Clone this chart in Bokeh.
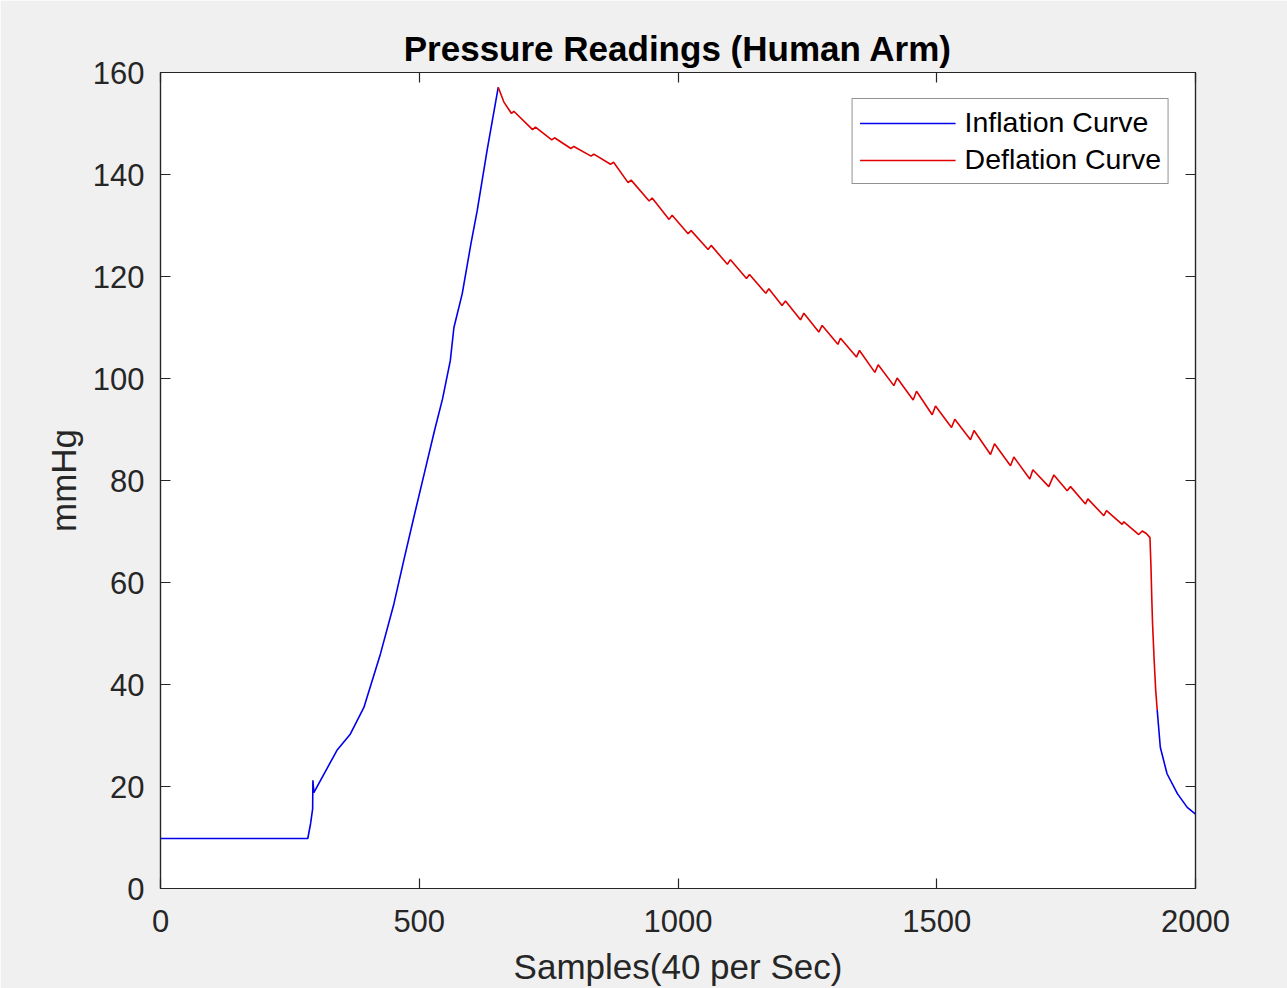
from bokeh.plotting import figure
from bokeh.models import LinearAxis, FixedTicker, Range1d, CustomJSTickFormatter
from bokeh.embed import file_html
from bokeh.resources import INLINE

# ---- data ----
infl_x = [0, 284.6, 290, 294, 294.5, 296.3, 341, 367, 393, 425, 451, 470, 490, 510,
          530, 545, 560, 567, 583, 600, 612, 631, 652.6]
infl_y = [9.8, 9.8, 12.7, 15.6, 21.2, 18.8, 27.1, 30.3, 35.5, 46.0, 55.8, 64.3, 73.0, 81.5,
          90.0, 96.0, 103.5, 110.0, 116.6, 126.5, 132.9, 144.7, 157.1]

defl_x = [652.6, 663.6, 678, 682.8, 719, 724.6, 756, 761.4, 793, 798.7, 832, 837.4,
          869.6, 875.5, 903.6, 909.5, 944.2, 950.1, 982.8, 988.7, 1019.5, 1025.4,
          1058.2, 1064.1, 1095.4, 1101.4, 1132.4, 1138.2, 1169.7, 1175.5, 1201, 1207.7,
          1236.7, 1243.2, 1272.1, 1278.6, 1308.9, 1314, 1344.9, 1350.7, 1380.4, 1386.8,
          1417.1, 1423.5, 1454.4, 1460.9, 1491.2, 1497.6, 1528.5, 1534.9, 1565.2, 1572,
          1603.9, 1611.6, 1642.5, 1649, 1679.8, 1685.7, 1716.5, 1726.3, 1752, 1758.5,
          1787.4, 1792, 1822.8, 1828, 1858.3, 1861.5, 1890.4, 1897, 1905, 1912,
          1914, 1915.5, 1917, 1920, 1923, 1926]
defl_y = [157.1, 154.2, 152.0, 152.4, 148.8, 149.3, 146.8, 147.2, 145.1, 145.5, 143.6, 144.0,
          142.0, 142.4, 138.4, 138.9, 134.8, 135.4, 131.2, 132.0, 128.4, 129.0,
          125.3, 126.1, 122.4, 123.3, 119.6, 120.4, 116.7, 117.6, 114.3, 115.2,
          111.5, 112.8, 109.1, 110.4, 106.7, 107.9, 104.2, 105.5, 101.2, 102.7,
          98.6, 100.1, 95.8, 97.5, 92.9, 94.6, 90.4, 92.0, 88.0, 89.8,
          85.1, 87.2, 82.9, 84.6, 80.3, 82.1, 78.8, 81.1, 78.0, 78.8,
          75.4, 76.4, 73.1, 74.1, 71.4, 71.9, 69.4, 70.1, 69.6, 68.8,
          63.0, 57.0, 52.0, 45.0, 39.0, 35.0]

tail_x = [1926, 1932, 1945, 1965, 1984, 2000]
tail_y = [35.0, 27.7, 22.5, 18.6, 15.9, 14.6]

x_ticks = [0, 500, 1000, 1500, 2000]
y_ticks = [0, 20, 40, 60, 80, 100, 120, 140, 160]

FONT = "Liberation Sans"
AX = "#262626"
BLUE = "#0000ee"
RED = "#e00000"

p = figure(frame_width=1035, frame_height=816,
           x_range=Range1d(0, 2000), y_range=Range1d(0, 160),
           output_backend="svg", toolbar_location=None,
           min_border_left=160, min_border_right=92,
           min_border_top=72, min_border_bottom=100,
           background_fill_color="white", border_fill_color="#f0f0f0",
           title="Pressure Readings (Human Arm)")

p.line(infl_x, infl_y, line_color=BLUE, line_width=1.6, legend_label="Inflation Curve")
p.line(tail_x, tail_y, line_color=BLUE, line_width=1.6)
p.line(defl_x, defl_y, line_color=RED, line_width=1.6, legend_label="Deflation Curve")

p.grid.visible = False
p.outline_line_color = AX
p.outline_line_width = 1.2

p.title.text_font = FONT
p.title.text_font_size = "35px"
p.title.text_font_style = "bold"
p.title.text_color = "black"
p.title.align = "center"

bottom_ax = p.below[0]
left_ax = p.left[0]
bottom_ax.ticker = FixedTicker(ticks=x_ticks)
left_ax.ticker = FixedTicker(ticks=y_ticks)
bottom_ax.axis_label = "Samples(40 per Sec)"
left_ax.axis_label = "mmHg"

blank = CustomJSTickFormatter(code="return '';")
right_ax = LinearAxis(ticker=FixedTicker(ticks=y_ticks), formatter=blank)
top_ax = LinearAxis(ticker=FixedTicker(ticks=x_ticks), formatter=blank)
p.add_layout(right_ax, "right")
p.add_layout(top_ax, "above")

for ax in (bottom_ax, left_ax, right_ax, top_ax):
    ax.axis_line_color = AX
    ax.axis_line_width = 1.2
    ax.major_tick_line_color = AX
    ax.major_tick_line_width = 1.2
    ax.major_tick_in = 10
    ax.major_tick_out = 0
    ax.minor_tick_line_color = None
    ax.major_label_text_font = FONT
    ax.major_label_text_font_size = "31px"
    ax.major_label_text_color = AX
    ax.axis_label_text_font = FONT
    ax.axis_label_text_font_size = "35px"
    ax.axis_label_text_font_style = "normal"
    ax.axis_label_text_color = AX

right_ax.major_label_standoff = 0
top_ax.major_label_standoff = 0
bottom_ax.major_label_standoff = 21
left_ax.major_label_standoff = 16
bottom_ax.axis_label_standoff = 12
left_ax.axis_label_standoff = 7

lg = p.legend[0]
lg.location = "top_right"
lg.margin = 26
lg.border_line_color = AX
lg.border_line_width = 1
lg.background_fill_color = "white"
lg.background_fill_alpha = 1
lg.label_text_font = FONT
lg.label_text_font_size = "28.5px"
lg.label_text_color = "black"
lg.glyph_width = 96
lg.glyph_height = 30
lg.label_height = 30
lg.spacing = 4
lg.padding = 7
lg.label_standoff = 9

open("out.html", "w").write(file_html(p, INLINE))
